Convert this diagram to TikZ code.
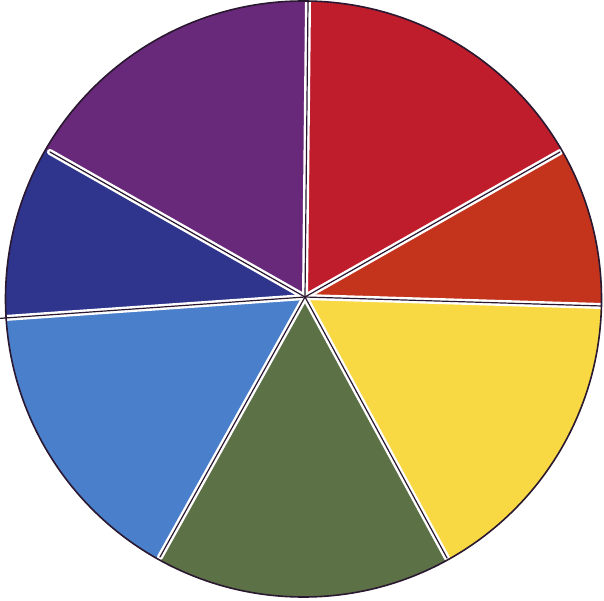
\documentclass[tikz,border=0pt]{standalone}
\usetikzlibrary{calc}
\definecolor{cpurple}{HTML}{68297A}
\definecolor{cred}{HTML}{C01D2C}
\definecolor{corange}{HTML}{C4331C}
\definecolor{cyellow}{HTML}{F8D944}
\definecolor{cgreen}{HTML}{5C7146}
\definecolor{clblue}{HTML}{4A7FCB}
\definecolor{cdblue}{HTML}{2F348D}
\definecolor{cink}{HTML}{2A1830}
\tikzset{
  gapline/.style={white, line width=6pt, line cap=round},
  inkline/.style={cink, line width=1.2pt, line cap=round},
  rimline/.style={cink, line width=1.6pt}
}
\begin{document}
\begin{tikzpicture}[x=1pt,y=1pt]
\useasboundingbox (0,0) rectangle (604,600);
\fill[white] (0,0) rectangle (604,600);
\coordinate (O) at (303.5,301);
\coordinate (C) at (305,303);
\coordinate (Ptop) at (308,598);
\coordinate (Pro) at (560,448);
\coordinate (Poy) at (602,294);
\coordinate (Pyg) at (447,42);
\coordinate (Pgb) at (160,43);
\coordinate (Pbb) at (5,282);
\coordinate (Pbp) at (50,448);
\begin{scope}
  \clip (O) circle (298);
  \fill[cred]    (C) -- ($(C)!3!(Ptop)$) -- ($(C)!3!(Pro)$) -- cycle;
  \fill[corange] (C) -- ($(C)!3!(Pro)$) -- ($(C)!3!(Poy)$) -- cycle;
  \fill[cyellow] (C) -- ($(C)!3!(Poy)$) -- ($(C)!3!(Pyg)$) -- cycle;
  \fill[cgreen]  (C) -- ($(C)!3!(Pyg)$) -- ($(C)!3!(Pgb)$) -- cycle;
  \fill[clblue]  (C) -- ($(C)!3!(Pgb)$) -- ($(C)!3!(Pbb)$) -- cycle;
  \fill[cdblue]  (C) -- ($(C)!3!(Pbb)$) -- ($(C)!3!(Pbp)$) -- cycle;
  \fill[cpurple] (C) -- ($(C)!3!(Pbp)$) -- ($(C)!3!(Ptop)$) -- cycle;
  \foreach \p in {Ptop,Pro,Poy,Pyg,Pgb,Pbb,Pbp} {
    \draw[gapline] (C) -- (\p);
  }
\end{scope}
\foreach \p in {Ptop,Pro,Poy,Pyg,Pgb,Pbb,Pbp} {
  \draw[inkline] (C) -- (\p);
}
\draw[inkline] (Ptop) -- ++(0,2);
\draw[inkline] (Pbb) -- ++(-5,-0.4);
\draw[rimline] (O) circle (298);
\end{tikzpicture}
\end{document}
